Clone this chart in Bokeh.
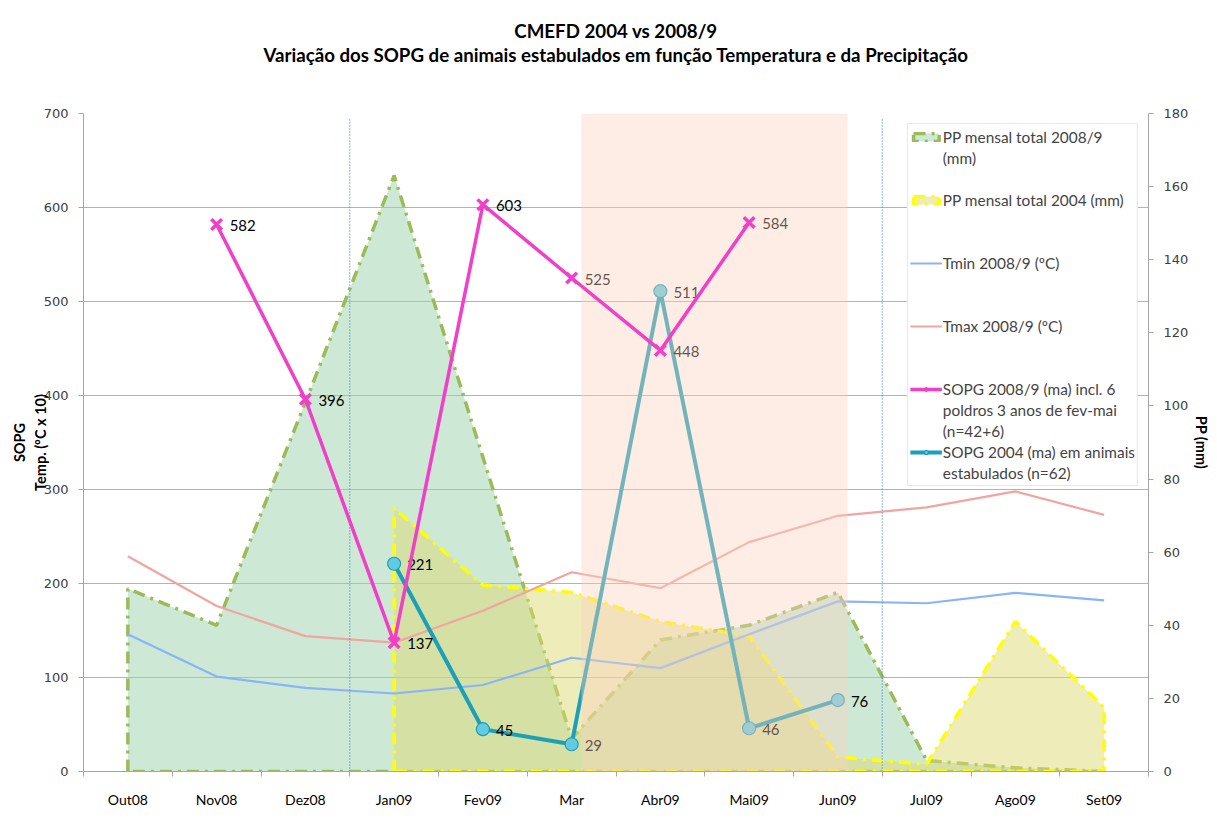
from bokeh.plotting import figure
from bokeh.models import (Range1d, LinearAxis, FixedTicker, SingleIntervalTicker,
                          Legend, LegendItem, Title)
from bokeh.core.properties import value
from bokeh.embed import file_html
from bokeh.resources import INLINE

nan = float("nan")

# ---------------- data ----------------
months = ["Out08", "Nov08", "Dez08", "Jan09", "Fev09", "Mar",
          "Abr09", "Mai09", "Jun09", "Jul09", "Ago09", "Set09"]
pp_2008_9 = [50, 40, 101, 163, 86, 9, 36, 40, 49, 3, 1, 0]          # mm (right axis)
pp_2004 = [nan, nan, nan, 72, 51, 49, 41, 37, 4, 2, 41, 17.5]      # mm (right axis)
tmin_2008_9 = [146, 101, 89, 83, 92, 121, 110, 146, 181, 179, 190, 182]   # ºC x 10
tmax_2008_9 = [229, 176, 144, 137, 171, 212, 195, 244, 272, 281, 298, 273]  # ºC x 10
sopg_2008_9 = [nan, 582, 396, 137, 603, 525, 448, 584, nan, nan, nan, nan]
sopg_2004 = [nan, nan, nan, 221, 45, 29, 511, 46, 76, nan, nan, nan]
shade_months = ("Mar", "Jun09")      # highlighted period
year_breaks = ("Jan09", "Jul09")     # dotted separators before these months
title_lines = ["CMEFD 2004 vs 2008/9",
               "Variação dos SOPG de animais estabulados em função Temperatura e da Precipitação"]

# ---------------- styles ----------------
GREEN_LINE = "#9BBB59"
GREEN_FILL = "#9BD3AB"
YELLOW_LINE = "#FFFF00"
YELLOW_FILL = "#DDD973"
TMIN = "#8AB4F8"
TMAX = "#F0A5A0"
MAGENTA = "#F03FC8"
TEAL = "#1AA0B8"
GRID = "#B3B3B3"
AXIS = "#A6A6A6"
FONT = "Lato"

xs = list(range(len(months)))

p = figure(width=1215, height=818, x_range=Range1d(-0.5, 11.5), y_range=Range1d(0, 700),
           output_backend="svg", toolbar_location=None, title=None,
           min_border_left=83, min_border_right=67, min_border_top=113, min_border_bottom=47)
p.extra_y_ranges = {"pp": Range1d(0, 180)}
p.outline_line_color = None
p.background_fill_color = "white"
p.border_fill_color = "white"

# titles: a blank spacer closest to the plot, then the two title lines
spacer = Title(text=" ", standoff=24, text_font_size="18.7px", text_font=FONT)
p.add_layout(spacer, "above")
t2 = Title(text=title_lines[1], align="center", text_font=FONT, text_font_style="bold",
           text_font_size="18.7px", text_color="black", standoff=0)
p.add_layout(t2, "above")
t1 = Title(text=title_lines[0], align="center", text_font=FONT, text_font_style="bold",
           text_font_size="18.7px", text_color="black", standoff=0)
p.add_layout(t1, "above")

# grid
p.xgrid.visible = False
p.ygrid.grid_line_color = GRID
p.ygrid.ticker = SingleIntervalTicker(interval=100, num_minor_ticks=0)

# x axis
xa = p.xaxis[0]
xa.ticker = FixedTicker(ticks=xs, minor_ticks=[i - 0.5 for i in range(len(months) + 1)])
xa.major_label_overrides = {i: m for i, m in enumerate(months)}
xa.major_tick_in = 0
xa.major_tick_out = 0
xa.minor_tick_in = 0
xa.minor_tick_out = 5
xa.minor_tick_line_color = AXIS
xa.axis_line_color = AXIS
xa.major_label_text_font = FONT
xa.major_label_text_font_size = "14px"
xa.major_label_text_color = "#000000"
xa.major_label_standoff = 14

# left axis
ya = p.yaxis[0]
ya.ticker = SingleIntervalTicker(interval=100, num_minor_ticks=0)
ya.axis_line_color = AXIS
ya.major_tick_line_color = AXIS
ya.major_tick_in = 0
ya.major_tick_out = 5
ya.minor_tick_line_color = None
ya.major_label_text_font = "DejaVu Sans"
ya.major_label_text_font_size = "13px"
ya.major_label_text_color = "#404040"
ya.major_label_standoff = 10
ya.axis_label = "SOPG\nTemp. (ºC x 10)"
ya.axis_label_text_font = FONT
ya.axis_label_text_font_style = "bold"
ya.axis_label_text_font_size = "14.5px"
ya.axis_label_text_color = "black"
ya.axis_label_standoff = -8

# right axis
ra = LinearAxis(y_range_name="pp", ticker=SingleIntervalTicker(interval=20, num_minor_ticks=0))
ra.axis_line_color = AXIS
ra.major_tick_line_color = AXIS
ra.major_tick_in = 0
ra.major_tick_out = 5
ra.minor_tick_line_color = None
ra.major_label_text_font = "DejaVu Sans"
ra.major_label_text_font_size = "13px"
ra.major_label_text_color = "#404040"
ra.major_label_standoff = 10
ra.axis_label = "PP (mm)"
ra.axis_label_text_font = FONT
ra.axis_label_text_font_style = "bold"
ra.axis_label_text_font_size = "14.5px"
ra.axis_label_text_color = "black"
ra.axis_label_standoff = 2
p.add_layout(ra, "right")

# ---------------- areas (precipitation) ----------------
g_x = [xs[0]] + xs + [xs[-1]]
g_y = [0] + pp_2008_9 + [0]
green = p.patch(g_x, g_y, y_range_name="pp", fill_color=GREEN_FILL, fill_alpha=0.5,
                line_color=GREEN_LINE, line_width=3.5, line_dash="12 6 3 6")

y_idx = [i for i, v in enumerate(pp_2004) if v == v]
y_x = [y_idx[0]] + y_idx + [y_idx[-1]]
y_y = [0] + [pp_2004[i] for i in y_idx] + [0]
yellow = p.patch(y_x, y_y, y_range_name="pp", fill_color=YELLOW_FILL, fill_alpha=0.5,
                 line_color=YELLOW_LINE, line_width=3.5, line_dash="12 6 3 6")

# ---------------- temperatures ----------------
tmin = p.line(xs, tmin_2008_9, line_color=TMIN, line_width=2.2)
tmax = p.line(xs, tmax_2008_9, line_color=TMAX, line_width=2.2)

# year separators
bx = [months.index(m) - 0.5 for m in year_breaks]
p.segment(x0=bx, y0=[0] * len(bx), x1=bx, y1=[695] * len(bx),
          line_color="#3F88D4", line_width=1.2, line_dash="1 2")

# ---------------- SOPG 2004 ----------------
s2_line = p.line(xs, sopg_2004, line_color=TEAL, line_width=4)
s2_mark = p.scatter(xs, sopg_2004, marker="circle", size=13, fill_color="#62CBE3",
                    line_color="#1F9DB4", line_width=1.2)

lab_x, lab_y, lab_t = [], [], []
for series in (sopg_2008_9, sopg_2004):
    for i, v in enumerate(series):
        if v == v:
            lab_x.append(i)
            lab_y.append(v)
            lab_t.append(str(int(v)))
p.text(x=lab_x, y=lab_y, text=lab_t, x_offset=13, y_offset=1, text_baseline="middle",
       text_align="left", text_font=value(FONT), text_font_size="15px", text_color="black")

# ---------------- highlighted period (semi-transparent overlay) ----------------
p.quad(left=[months.index(shade_months[0]) + 0.11], right=[months.index(shade_months[1]) + 0.11],
       bottom=[0], top=[700], fill_color="#FAD3BE", fill_alpha=0.4, line_color=None)

# ---------------- SOPG 2008/9 ----------------
s1_line = p.line(xs, sopg_2008_9, line_color=MAGENTA, line_width=3.5)
s1_mark = p.scatter(xs, sopg_2008_9, marker="x", size=15, line_color=MAGENTA, line_width=3.5)

# ---------------- legend ----------------
rows = [
    ("PP mensal total 2008/9", [green]),
    ("(mm)", []),
    (" ", []),
    ("PP mensal total 2004 (mm)", [yellow]),
    (" ", []),
    (" ", []),
    ("Tmin 2008/9 (ºC)", [tmin]),
    (" ", []),
    (" ", []),
    ("Tmax 2008/9 (ºC)", [tmax]),
    (" ", []),
    (" ", []),
    ("SOPG 2008/9 (ma) incl. 6", [s1_line, s1_mark]),
    ("poldros 3 anos de fev-mai", []),
    ("(n=42+6)", []),
    ("SOPG 2004 (ma) em animais", [s2_line, s2_mark]),
    ("estabulados (n=62)", []),
]
legend = Legend(items=[LegendItem(label=t, renderers=r) for t, r in rows], location="top_right")
legend.margin = 10
legend.padding = 2
legend.spacing = 0
legend.glyph_width = 32
legend.glyph_height = 10
legend.label_height = 21
legend.label_standoff = 1
legend.label_text_font = FONT
legend.label_text_font_size = "15.4px"
legend.border_line_color = "#D0D0D0"
legend.background_fill_color = "white"
legend.background_fill_alpha = 1
p.add_layout(legend)

open("out.html", "w").write(file_html(p, INLINE))
